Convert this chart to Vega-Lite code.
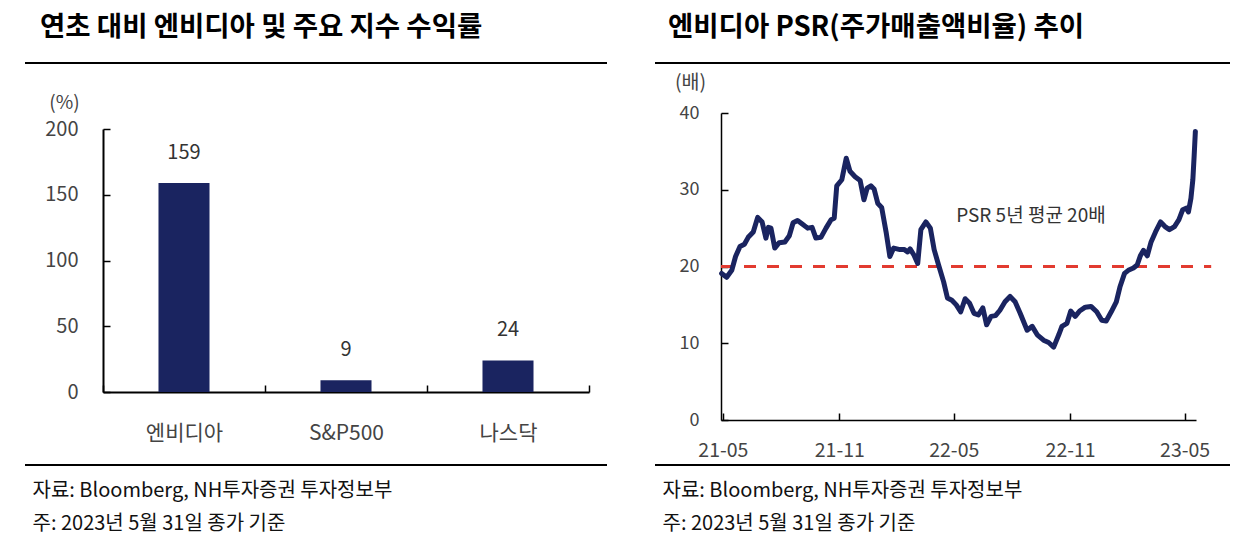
{
  "$schema": "https://vega.github.io/schema/vega-lite/v6.json",
  "padding": {"left": 24, "top": 12, "right": 0, "bottom": 0},
  "spacing": 46,
  "config": {"font": "Noto Sans CJK KR", "axis": {"grid": false}},
  "datasets": {
    "returns": [
      {"name": "엔비디아", "ret": 159},
      {"name": "S&P500", "ret": 9},
      {"name": "나스닥", "ret": 24}
    ],
    "avg": [
      {"start": "2021-04-28", "end": "2023-06-12", "v": 20, "label": "PSR 5년 평균 20배", "labelDate": "2022-08-31", "labelY": 26.6}
    ],
    "psr": [
      {"date": "2021-04-29", "v": 19.1},
      {"date": "2021-05-07", "v": 18.6},
      {"date": "2021-05-15", "v": 19.5},
      {"date": "2021-05-21", "v": 21.3},
      {"date": "2021-05-28", "v": 22.6},
      {"date": "2021-06-04", "v": 22.9},
      {"date": "2021-06-10", "v": 23.8},
      {"date": "2021-06-18", "v": 24.5},
      {"date": "2021-06-25", "v": 26.4},
      {"date": "2021-07-02", "v": 25.8},
      {"date": "2021-07-08", "v": 23.7},
      {"date": "2021-07-12", "v": 25.1},
      {"date": "2021-07-16", "v": 25.0},
      {"date": "2021-07-22", "v": 22.4},
      {"date": "2021-07-29", "v": 23.1},
      {"date": "2021-08-07", "v": 23.2},
      {"date": "2021-08-14", "v": 24.0},
      {"date": "2021-08-20", "v": 25.7},
      {"date": "2021-08-27", "v": 26.0},
      {"date": "2021-09-04", "v": 25.5},
      {"date": "2021-09-12", "v": 25.0},
      {"date": "2021-09-19", "v": 25.1},
      {"date": "2021-09-25", "v": 23.7},
      {"date": "2021-10-03", "v": 23.8},
      {"date": "2021-10-11", "v": 25.0},
      {"date": "2021-10-19", "v": 26.1},
      {"date": "2021-10-24", "v": 26.3},
      {"date": "2021-10-28", "v": 30.5},
      {"date": "2021-11-05", "v": 31.3},
      {"date": "2021-11-12", "v": 34.1},
      {"date": "2021-11-18", "v": 32.4},
      {"date": "2021-11-26", "v": 31.7},
      {"date": "2021-12-04", "v": 31.2},
      {"date": "2021-12-10", "v": 28.7},
      {"date": "2021-12-15", "v": 30.2},
      {"date": "2021-12-21", "v": 30.5},
      {"date": "2021-12-26", "v": 30.1},
      {"date": "2022-01-01", "v": 28.2},
      {"date": "2022-01-07", "v": 27.7},
      {"date": "2022-01-14", "v": 24.5},
      {"date": "2022-01-20", "v": 21.3},
      {"date": "2022-01-26", "v": 22.4},
      {"date": "2022-02-05", "v": 22.2},
      {"date": "2022-02-12", "v": 22.2},
      {"date": "2022-02-17", "v": 21.9},
      {"date": "2022-02-21", "v": 22.3},
      {"date": "2022-02-27", "v": 21.5},
      {"date": "2022-03-05", "v": 20.4},
      {"date": "2022-03-10", "v": 24.8},
      {"date": "2022-03-18", "v": 25.8},
      {"date": "2022-03-25", "v": 25.0},
      {"date": "2022-03-31", "v": 22.2},
      {"date": "2022-04-07", "v": 20.2},
      {"date": "2022-04-15", "v": 18.0},
      {"date": "2022-04-21", "v": 15.9},
      {"date": "2022-04-28", "v": 15.6},
      {"date": "2022-05-05", "v": 15.0},
      {"date": "2022-05-12", "v": 14.1},
      {"date": "2022-05-19", "v": 15.8},
      {"date": "2022-05-26", "v": 15.2},
      {"date": "2022-06-02", "v": 13.9},
      {"date": "2022-06-09", "v": 13.7},
      {"date": "2022-06-16", "v": 14.6},
      {"date": "2022-06-22", "v": 12.4},
      {"date": "2022-06-29", "v": 13.5},
      {"date": "2022-07-06", "v": 13.6},
      {"date": "2022-07-13", "v": 14.3},
      {"date": "2022-07-21", "v": 15.4},
      {"date": "2022-07-29", "v": 16.1},
      {"date": "2022-08-06", "v": 15.4},
      {"date": "2022-08-14", "v": 13.9},
      {"date": "2022-08-25", "v": 11.7},
      {"date": "2022-09-02", "v": 12.2},
      {"date": "2022-09-10", "v": 11.1},
      {"date": "2022-09-20", "v": 10.4},
      {"date": "2022-09-28", "v": 10.1},
      {"date": "2022-10-06", "v": 9.5},
      {"date": "2022-10-14", "v": 11.1},
      {"date": "2022-10-19", "v": 12.2},
      {"date": "2022-10-27", "v": 12.6},
      {"date": "2022-11-02", "v": 14.2},
      {"date": "2022-11-09", "v": 13.5},
      {"date": "2022-11-16", "v": 14.2},
      {"date": "2022-11-25", "v": 14.7},
      {"date": "2022-12-04", "v": 14.8},
      {"date": "2022-12-13", "v": 14.1},
      {"date": "2022-12-21", "v": 13.0},
      {"date": "2022-12-28", "v": 12.9},
      {"date": "2023-01-05", "v": 14.1},
      {"date": "2023-01-13", "v": 15.4},
      {"date": "2023-01-19", "v": 17.4},
      {"date": "2023-01-26", "v": 19.1},
      {"date": "2023-02-01", "v": 19.5},
      {"date": "2023-02-09", "v": 19.8},
      {"date": "2023-02-15", "v": 20.2},
      {"date": "2023-02-20", "v": 21.4},
      {"date": "2023-02-25", "v": 22.1},
      {"date": "2023-03-03", "v": 21.4},
      {"date": "2023-03-09", "v": 23.2},
      {"date": "2023-03-16", "v": 24.5},
      {"date": "2023-03-24", "v": 25.8},
      {"date": "2023-03-31", "v": 25.2},
      {"date": "2023-04-07", "v": 24.8},
      {"date": "2023-04-15", "v": 25.2},
      {"date": "2023-04-22", "v": 26.1},
      {"date": "2023-04-28", "v": 27.4},
      {"date": "2023-05-04", "v": 27.6},
      {"date": "2023-05-07", "v": 27.1},
      {"date": "2023-05-11", "v": 28.9},
      {"date": "2023-05-14", "v": 31.3},
      {"date": "2023-05-16", "v": 34.3},
      {"date": "2023-05-18", "v": 37.6}
    ]
  },
  "hconcat": [
    {
      "width": 582,
      "height": 402,
      "view": {"stroke": "#000000", "strokeWidth": 2, "strokeDash": [582, 402]},
      "title": {"text": "연초 대비 엔비디아 및 주요 지수 수익률", "anchor": "start", "frame": "group", "dx": 15, "offset": 0, "fontSize": 27.5, "fontWeight": "bold", "color": "#000000", "baseline": "alphabetic"},
      "data": {"name": "returns"},
      "encoding": {
        "x": {
          "field": "name", "type": "nominal", "sort": null,
          "scale": {"range": [78, 564], "paddingInner": 0, "paddingOuter": 0},
          "axis": {
            "title": ["자료: Bloomberg, NH투자증권 투자정보부", "주: 2023년 5월 31일 종가 기준"],
            "offset": -73, "tickBand": "extent", "labelAngle": 0, "labelFontSize": 21, "labelColor": "#444444",
            "labelPadding": 37.5, "tickSize": -7, "tickColor": "#000000", "tickWidth": 1.5,
            "domainColor": "#000000", "domainWidth": 2,
            "titleX": 7, "titleY": 104, "titleAlign": "left", "titleAnchor": "start", "titleBaseline": "alphabetic",
            "titleFontSize": 20, "titleFontWeight": "normal", "titleColor": "#111111", "titleLineHeight": 33
          }
        },
        "y": {
          "field": "ret", "type": "quantitative",
          "scale": {"domain": [0, 200], "range": [329, 66], "nice": false},
          "axis": {
            "title": "(%)", "offset": -78, "values": [0, 50, 100, 150, 200],
            "tickSize": -7, "labelPadding": 32, "labelFontSize": 20, "labelColor": "#444444",
            "domainColor": "#000000", "domainWidth": 2, "tickColor": "#000000", "tickWidth": 1.5,
            "titleAngle": 0, "titleX": -39, "titleY": 39, "titleAlign": "center", "titleBaseline": "middle",
            "titleFontSize": 19, "titleFontWeight": "normal", "titleColor": "#444444"
          }
        }
      },
      "layer": [
        {"mark": {"type": "bar", "color": "#1a2460", "width": {"band": 0.315}}},
        {"mark": {"type": "text", "dy": -30, "fontSize": 20, "color": "#333333", "baseline": "middle"}, "encoding": {"text": {"field": "ret", "type": "quantitative"}}}
      ]
    },
    {
      "width": 575,
      "height": 402,
      "view": {"stroke": "#000000", "strokeWidth": 2, "strokeDash": [575, 402]},
      "title": {"text": "엔비디아 PSR(주가매출액비율) 추이", "anchor": "start", "frame": "group", "dx": 13, "offset": 0, "fontSize": 27.5, "fontWeight": "bold", "color": "#000000", "baseline": "alphabetic"},
      "layer": [
        {
          "data": {"name": "avg"},
          "mark": {"type": "rule", "color": "#e23b30", "strokeWidth": 3, "strokeDash": [12, 11]},
          "encoding": {
            "x": {
              "field": "start", "type": "temporal",
              "scale": {"type": "utc", "domain": [{"year": 2021, "month": 4, "date": 28, "utc": true}, {"year": 2023, "month": 5, "date": 19, "utc": true}], "range": [66, 541]},
              "axis": {
                "title": ["자료: Bloomberg, NH투자증권 투자정보부", "주: 2023년 5월 31일 종가 기준"],
                "values": [
                  {"year": 2021, "month": 5, "date": 1, "utc": true},
                  {"year": 2021, "month": 11, "date": 1, "utc": true},
                  {"year": 2022, "month": 5, "date": 1, "utc": true},
                  {"year": 2022, "month": 11, "date": 1, "utc": true},
                  {"year": 2023, "month": 5, "date": 1, "utc": true}
                ],
                "labelExpr": "utcFormat(datum.value, '%y-%m')", "labelFlush": false,
                "offset": -45, "tickSize": -7, "labelPadding": 28, "labelFontSize": 19.5, "labelColor": "#444444", "labelAngle": 0,
                "domainColor": "#000000", "domainWidth": 1.5, "tickColor": "#000000", "tickWidth": 1.5,
                "titleX": 7, "titleY": 76, "titleAlign": "left", "titleAnchor": "start", "titleBaseline": "alphabetic",
                "titleFontSize": 20, "titleFontWeight": "normal", "titleColor": "#111111", "titleLineHeight": 33
              }
            },
            "x2": {"field": "end"},
            "y": {
              "field": "v", "type": "quantitative",
              "scale": {"domain": [0, 40], "range": [357, 50], "nice": false},
              "axis": {
                "title": "(배)", "offset": -66, "values": [0, 10, 20, 30, 40],
                "tickSize": -7, "labelPadding": 29, "labelFontSize": 18, "labelColor": "#444444",
                "domainColor": "#000000", "domainWidth": 1.5, "tickColor": "#000000", "tickWidth": 1.5,
                "titleAngle": 0, "titleX": -31, "titleY": 19, "titleAlign": "center", "titleBaseline": "middle",
                "titleFontSize": 19.5, "titleFontWeight": "normal", "titleColor": "#444444"
              }
            }
          }
        },
        {
          "data": {"name": "psr"},
          "mark": {"type": "line", "color": "#1a2460", "strokeWidth": 5, "strokeJoin": "round", "strokeCap": "round"},
          "encoding": {
            "x": {"field": "date", "type": "temporal"},
            "y": {"field": "v", "type": "quantitative"}
          }
        },
        {
          "data": {"name": "avg"},
          "mark": {"type": "text", "fontSize": 19, "color": "#333333", "baseline": "middle", "align": "center"},
          "encoding": {
            "x": {"field": "labelDate", "type": "temporal"},
            "y": {"field": "labelY", "type": "quantitative"},
            "text": {"field": "label"}
          }
        }
      ]
    }
  ]
}
